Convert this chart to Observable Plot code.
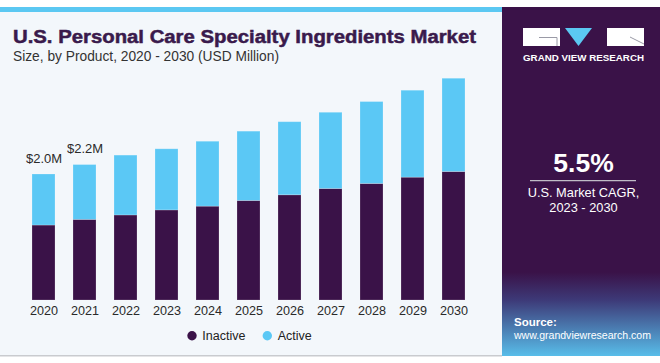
<!DOCTYPE html>
<html>
<head>
<meta charset="utf-8">
<script src="https://cdn.jsdelivr.net/npm/d3@7"></script>
<script src="https://cdn.jsdelivr.net/npm/@observablehq/plot@0.6"></script>
<style>
  body { margin: 0; background: #fff; }
  #wrap { position: relative; width: 660px; height: 363px; overflow: hidden; background: #fff; font-family: "Liberation Sans", Arial, sans-serif; }
  #bg { position: absolute; left: 0; top: 0; }
  #chart { position: absolute; left: 0; top: 60px; }
</style>
</head>
<body>
<div id="wrap">
<svg id="bg" width="660" height="363" xmlns="http://www.w3.org/2000/svg">
  <defs>
    <linearGradient id="pg" x1="0" y1="0" x2="0" y2="1">
      <stop offset="0" stop-color="#3a1248"/>
      <stop offset="0.76" stop-color="#3a1248"/>
      <stop offset="0.84" stop-color="#3d3a78"/>
      <stop offset="1" stop-color="#58bde9"/>
    </linearGradient>
  </defs>
  <rect x="0" y="7" width="502" height="349" fill="#f3f7fb"/>
  <rect x="0" y="7" width="502" height="5" fill="#5bc8f2"/>
  <rect x="0" y="355" width="502" height="1.5" fill="#c9cbcf"/>
  <rect x="502" y="7" width="158" height="349" fill="url(#pg)"/>
  <!-- logo -->
  <rect x="523" y="28" width="37" height="18" fill="#fff"/>
  <path d="M539 37.5 H557 V46" stroke="#9a9aa6" stroke-width="1" fill="none"/>
  <polygon points="565,28 592,28 578.5,46" fill="#5bc8f2"/>
  <rect x="607" y="28" width="37" height="18" fill="#fff"/>
  <path d="M630 37 L644 44" stroke="#9a9aa6" stroke-width="1" fill="none"/>
  <text x="523" y="61" fill="#fff" font-size="8.5" font-weight="bold" textLength="121" lengthAdjust="spacingAndGlyphs">GRAND VIEW RESEARCH</text>
  <!-- CAGR -->
  <text x="583.5" y="171.7" fill="#fff" font-size="26.5" font-weight="bold" text-anchor="middle">5.5%</text>
  <line x1="530" y1="180.7" x2="636" y2="180.7" stroke="#c0bcc6" stroke-width="1.3"/>
  <text x="583.5" y="197.3" fill="#fff" font-size="12.8" text-anchor="middle">U.S. Market CAGR,</text>
  <text x="583.5" y="212.3" fill="#fff" font-size="12.8" text-anchor="middle">2023 - 2030</text>
  <!-- source -->
  <text x="514" y="326" fill="#fff" font-size="11.5" font-weight="bold">Source:</text>
  <text x="514" y="339" fill="#fff" font-size="11" textLength="137" lengthAdjust="spacingAndGlyphs">www.grandviewresearch.com</text>
  <!-- titles -->
  <text x="13" y="42.7" fill="#3a1a4c" stroke="#3a1a4c" stroke-width="0.5" font-size="18.7" font-weight="bold" textLength="463" lengthAdjust="spacingAndGlyphs">U.S. Personal Care Specialty Ingredients Market</text>
  <text x="13" y="60.7" fill="#333" font-size="14" textLength="266" lengthAdjust="spacingAndGlyphs">Size, by Product, 2020 - 2030 (USD Million)</text>
  <!-- legend -->
  <circle cx="192" cy="335.7" r="4.7" fill="#3a1248"/>
  <text x="202.3" y="340.2" fill="#222" font-size="12.5">Inactive</text>
  <circle cx="267.3" cy="335.7" r="4.7" fill="#5bc8f5"/>
  <text x="277.7" y="340.2" fill="#222" font-size="12.5">Active</text>
</svg>
<div id="chart"></div>
</div>
<script>
const years = ["2020","2021","2022","2023","2024","2025","2026","2027","2028","2029","2030"];
const inactive = [1.19, 1.28, 1.35, 1.43, 1.49, 1.58, 1.67, 1.77, 1.85, 1.95, 2.04];
const active   = [0.81, 0.87, 0.95, 0.97, 1.03, 1.10, 1.16, 1.21, 1.30, 1.38, 1.48];
const seriesNames = ["Inactive", "Active"];
const seriesColors = ["#3a1248", "#5bc8f5"];
const labelYears = ["2020", "2021"];
const labelTexts = ["$2.0M", "$2.2M"];

const rows = [];
years.forEach((y, i) => {
  rows.push({year: y, series: seriesNames[0], value: inactive[i]});
  rows.push({year: y, series: seriesNames[1], value: active[i]});
});
const labels = labelYears.map((y, k) => {
  const i = years.indexOf(y);
  return {year: y, total: inactive[i] + active[i], text: labelTexts[k]};
});

const chart = Plot.plot({
  width: 500,
  height: 280,
  marginLeft: 9,
  marginRight: 12,
  marginTop: 13.2,
  marginBottom: 40,
  style: {background: "transparent", fontFamily: "'Liberation Sans', Arial, sans-serif", fontSize: "12.6px", color: "#2a2a2a"},
  x: {domain: years, padding: 0.427, label: null, tickSize: 0, tickPadding: 6},
  y: {domain: [0, 3.6], axis: null},
  color: {domain: seriesNames, range: seriesColors},
  marks: [
    Plot.barY(rows, {x: "year", y: "value", fill: "series", stroke: "#ffffff", strokeOpacity: 0.25, strokeWidth: 0.8}),
    Plot.text(labels, {x: "year", y: "total", text: "text", dy: -16, fontSize: 13, fill: "#2a2a2a"})
  ]
});
document.getElementById("chart").appendChild(chart);
</script>
</body>
</html>
